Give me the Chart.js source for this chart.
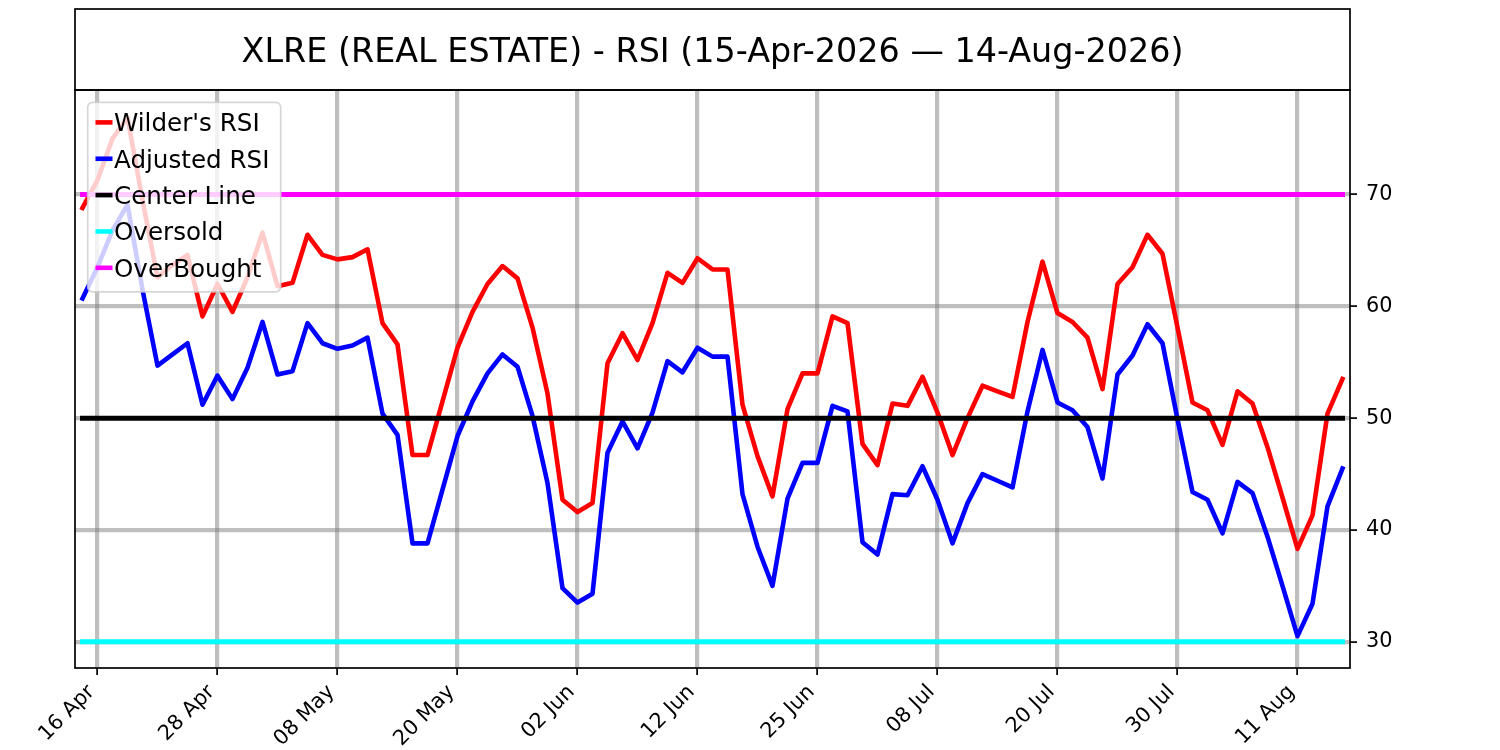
<!DOCTYPE html>
<html>
<head>
<meta charset="utf-8">
<script src="https://cdn.jsdelivr.net/npm/chart.js@4.4.1/dist/chart.umd.min.js"></script>
<style>
html, body { margin: 0; padding: 0; background: #ffffff; }
#wrap { width: 1500px; height: 750px; }
</style>
</head>
<body>
<div id="wrap"><canvas id="c" width="1500" height="750"></canvas></div>
<script>
const TITLE = "XLRE (REAL ESTATE) - RSI (15-Apr-2026 \u2014 14-Aug-2026)";

// Trading days (categories)
const dates = [
  "15 Apr","16 Apr","17 Apr","20 Apr","21 Apr","22 Apr","23 Apr","24 Apr","27 Apr","28 Apr","29 Apr","30 Apr",
  "01 May","04 May","05 May","06 May","07 May","08 May","11 May","12 May","13 May","14 May","15 May","18 May",
  "19 May","20 May","21 May","22 May","26 May","27 May","28 May","29 May",
  "01 Jun","02 Jun","03 Jun","04 Jun","05 Jun","08 Jun","09 Jun","10 Jun","11 Jun","12 Jun","15 Jun","16 Jun",
  "17 Jun","18 Jun","22 Jun","23 Jun","24 Jun","25 Jun","26 Jun","29 Jun","30 Jun",
  "01 Jul","02 Jul","06 Jul","07 Jul","08 Jul","09 Jul","10 Jul","13 Jul","14 Jul","15 Jul","16 Jul","17 Jul",
  "20 Jul","21 Jul","22 Jul","23 Jul","24 Jul","27 Jul","28 Jul","29 Jul","30 Jul","31 Jul",
  "03 Aug","04 Aug","05 Aug","06 Aug","07 Aug","10 Aug","11 Aug","12 Aug","13 Aug","14 Aug"
];

// Positions (category indices) that carry a tick label
const xTickIndices = [1, 9, 17, 25, 33, 41, 49, 57, 65, 73, 81];
const yTickValues = [30, 40, 50, 60, 70];

const wilderRSI = [
  68.8, 71.3, 75.0, 76.9, 69.5, 62.6, 63.7, 64.6, 59.1, 62.0, 59.5, 62.6,
  66.6, 61.8, 62.1, 66.4, 64.6, 64.2, 64.4, 65.1, 58.5, 56.6, 46.7, 46.7,
  51.5, 56.3, 59.5, 62.0, 63.6, 62.5, 58.1, 52.2, 42.7, 41.6, 42.4, 54.9,
  57.6, 55.2, 58.5, 63.0, 62.1, 64.3, 63.3, 63.3, 51.2, 46.6, 43.0, 50.8,
  54.0, 54.0, 59.1, 58.5, 47.7, 45.8, 51.3, 51.1, 53.7, 50.5, 46.7, 50.0,
  52.9, 52.4, 51.9, 58.6, 64.0, 59.4, 58.6, 57.2, 52.6, 62.0, 63.5, 66.4,
  64.7, 58.1, 51.4, 50.7, 47.6, 52.4, 51.3, 47.4, 42.9, 38.3, 41.3, 50.4, 53.5
];

const adjustedRSI = [
  60.7, 63.5, 66.8, 69.1, 61.5, 54.7, 55.7, 56.7, 51.2, 53.8, 51.7, 54.5,
  58.6, 53.9, 54.2, 58.5, 56.7, 56.2, 56.5, 57.2, 50.4, 48.5, 38.8, 38.8,
  43.6, 48.4, 51.5, 54.0, 55.7, 54.6, 50.2, 44.2, 34.8, 33.5, 34.3, 46.9,
  49.7, 47.3, 50.5, 55.1, 54.1, 56.3, 55.5, 55.5, 43.2, 38.5, 35.0, 42.8,
  46.0, 46.0, 51.1, 50.6, 38.9, 37.8, 43.2, 43.1, 45.7, 42.7, 38.8, 42.4,
  45.0, 44.4, 43.8, 50.6, 56.1, 51.4, 50.7, 49.2, 44.6, 53.9, 55.6, 58.4,
  56.7, 49.9, 43.4, 42.7, 39.7, 44.3, 43.3, 39.4, 35.0, 30.5, 33.4, 42.1, 45.5
];

const CENTER_LEVEL = 50;
const OVERSOLD_LEVEL = 30;
const OVERBOUGHT_LEVEL = 70;

const Y_MIN = 27.65;
const Y_MAX = 79.35;

const FONT = "'DejaVu Sans', 'Liberation Sans', sans-serif";
const RSI_W = 4.6;
const LEVEL_W = 5.0;

function toXY(arr) { return arr.map((v, i) => ({ x: i, y: v })); }
function levelXY(level) { return dates.map((d, i) => ({ x: i, y: level })); }

function lineDataset(label, data, color, width, order) {
  return {
    label: label,
    data: data,
    borderColor: color,
    backgroundColor: color,
    borderWidth: width,
    tension: 0,
    fill: false,
    pointRadius: 0,
    pointHoverRadius: 0,
    borderJoinStyle: 'round',
    borderCapStyle: 'square',
    order: order
  };
}

const framePlugin = {
  id: 'frameTitleLegend',
  beforeDraw(chart) {
    const c = chart.ctx;
    c.save();
    c.fillStyle = '#ffffff';
    c.fillRect(0, 0, chart.width, chart.height);
    c.restore();
  },
  afterDatasetsDraw(chart) {
    const ctx = chart.ctx;
    const a = chart.chartArea;
    ctx.save();
    // axes frame
    ctx.strokeStyle = '#000000';
    ctx.lineWidth = 1.7;
    ctx.strokeRect(a.left, a.top, a.right - a.left, a.bottom - a.top);
    // title box
    ctx.strokeRect(a.left, 9, a.right - a.left, a.top - 9);
    ctx.fillStyle = '#000000';
    ctx.font = "33.4px " + FONT;
    ctx.textAlign = 'center';
    ctx.textBaseline = 'alphabetic';
    ctx.fillText(TITLE, (a.left + a.right) / 2, 61.5);

    // legend
    const bx = a.left + 12.7, by = a.top + 12.3, bw = 193, bh = 189.5, r = 5;
    ctx.beginPath();
    ctx.moveTo(bx + r, by);
    ctx.lineTo(bx + bw - r, by);
    ctx.arcTo(bx + bw, by, bx + bw, by + r, r);
    ctx.lineTo(bx + bw, by + bh - r);
    ctx.arcTo(bx + bw, by + bh, bx + bw - r, by + bh, r);
    ctx.lineTo(bx + r, by + bh);
    ctx.arcTo(bx, by + bh, bx, by + bh - r, r);
    ctx.lineTo(bx, by + r);
    ctx.arcTo(bx, by, bx + r, by, r);
    ctx.closePath();
    ctx.fillStyle = 'rgba(255,255,255,0.8)';
    ctx.fill();
    ctx.strokeStyle = 'rgba(204,204,204,0.8)';
    ctx.lineWidth = 1.7;
    ctx.stroke();

    ctx.font = "24.6px " + FONT;
    ctx.textAlign = 'left';
    ctx.textBaseline = 'alphabetic';
    chart.data.datasets.forEach((ds, k) => {
      const cy = a.top + 32.4 + k * 36.35;
      ctx.strokeStyle = ds.borderColor;
      ctx.lineWidth = 4.6;
      ctx.lineCap = 'butt';
      ctx.beginPath();
      ctx.moveTo(a.left + 20.5, cy);
      ctx.lineTo(a.left + 37.5, cy);
      ctx.stroke();
      ctx.fillStyle = '#000000';
      ctx.fillText(ds.label, a.left + 39, cy + 9);
    });
    ctx.restore();
  }
};

const gridOpts = {
  color: 'rgba(128,128,128,0.5)',
  lineWidth: 4.2,
  drawTicks: true,
  tickLength: 7,
  tickColor: '#000000',
  tickWidth: 1.7
};

new Chart(document.getElementById('c'), {
  type: 'line',
  data: {
    datasets: [
      lineDataset("Wilder's RSI", toXY(wilderRSI), '#ff0000', RSI_W, 5),
      lineDataset('Adjusted RSI', toXY(adjustedRSI), '#0000ff', RSI_W, 4),
      lineDataset('Center Line', levelXY(CENTER_LEVEL), '#000000', LEVEL_W, 3),
      lineDataset('Oversold', levelXY(OVERSOLD_LEVEL), '#00ffff', LEVEL_W, 2),
      lineDataset('OverBought', levelXY(OVERBOUGHT_LEVEL), '#ff00ff', LEVEL_W, 1)
    ]
  },
  options: {
    responsive: false,
    animation: false,
    devicePixelRatio: 1,
    layout: { padding: { left: 75, top: 90, right: 0, bottom: 0 } },
    plugins: {
      legend: { display: false },
      title: { display: false },
      tooltip: { enabled: false }
    },
    scales: {
      x: {
        type: 'linear',
        min: -0.5,
        max: 84.5,
        afterBuildTicks: (s) => { s.ticks = xTickIndices.map(v => ({ value: v })); },
        afterFit: (s) => { s.height = 82; },
        ticks: {
          autoSkip: false,
          minRotation: 45,
          maxRotation: 45,
          padding: 5,
          labelOffset: -6,
          color: '#000000',
          font: { family: FONT, size: 20.8 },
          callback: (v) => dates[v]
        },
        grid: gridOpts,
        border: { display: false }
      },
      y: {
        type: 'linear',
        position: 'right',
        min: Y_MIN,
        max: Y_MAX,
        afterBuildTicks: (s) => { s.ticks = yTickValues.map(v => ({ value: v })); },
        afterFit: (s) => { s.width = 150; },
        ticks: {
          padding: 9,
          color: '#000000',
          font: { family: FONT, size: 20.8 },
          callback: (v) => String(v)
        },
        grid: gridOpts,
        border: { display: false }
      }
    }
  },
  plugins: [framePlugin]
});
</script>
</body>
</html>
